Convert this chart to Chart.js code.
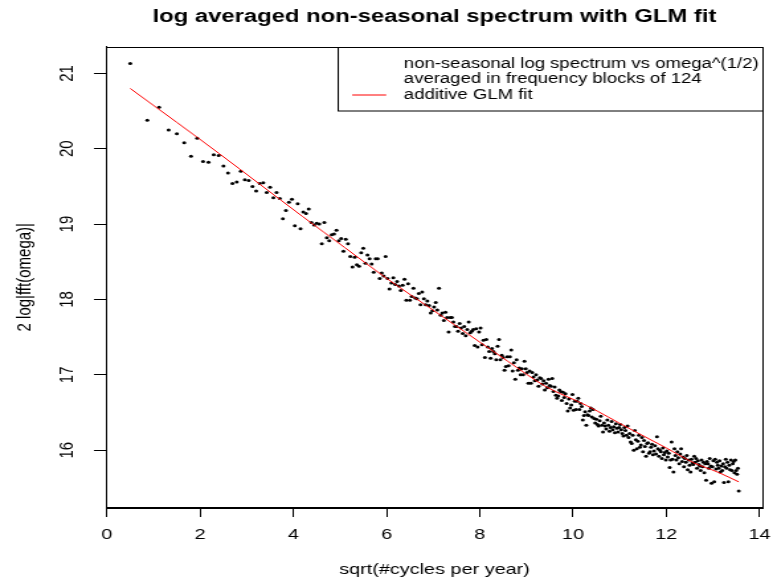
<!DOCTYPE html>
<html>
<head>
<meta charset="utf-8">
<script src="https://cdn.jsdelivr.net/npm/chart.js@4.4.1/dist/chart.umd.min.js"></script>
<style>
  html, body { margin: 0; padding: 0; background: #fff; overflow: hidden; }
  /* el original es un grafico cuadrado estirado a lo ancho */
  #grafica { display: block; transform: scaleX(1.32363); transform-origin: 0 0; }
</style>
</head>
<body>
<canvas id="grafica" width="584" height="584"></canvas>
<script>
const titulo = "log averaged non-seasonal spectrum with GLM fit";
const tituloX = "sqrt(#cycles per year)";
const tituloY = "2 log|fft(omega)|";
const leyenda = ["non-seasonal log spectrum vs omega^(1/2)", "averaged in frequency blocks of 124", "additive GLM fit"];

const xTicks = [0, 2, 4, 6, 8, 10, 12, 14];
const yTicks = [16, 17, 18, 19, 20, 21];

// centro de cada bloque de frecuencias (ciclos por año)
const cyclesPerYear = [
  0.25,0.75,1.25,1.75,2.25,2.75,3.25,3.75,4.25,4.75,5.25,5.75,6.25,6.75,7.25,7.75,8.25,8.75,9.25,9.75,
  10.25,10.75,11.25,11.75,12.25,12.75,13.25,13.75,14.25,14.75,15.25,15.75,16.25,16.75,17.25,17.75,18.25,18.75,19.25,19.75,
  20.25,20.75,21.25,21.75,22.25,22.75,23.25,23.75,24.25,24.75,25.25,25.75,26.25,26.75,27.25,27.75,28.25,28.75,29.25,29.75,
  30.25,30.75,31.25,31.75,32.25,32.75,33.25,33.75,34.25,34.75,35.25,35.75,36.25,36.75,37.25,37.75,38.25,38.75,39.25,39.75,
  40.25,40.75,41.25,41.75,42.25,42.75,43.25,43.75,44.25,44.75,45.25,45.75,46.25,46.75,47.25,47.75,48.25,48.75,49.25,49.75,
  50.25,50.75,51.25,51.75,52.25,52.75,53.25,53.75,54.25,54.75,55.25,55.75,56.25,56.75,57.25,57.75,58.25,58.75,59.25,59.75,
  60.25,60.75,61.25,61.75,62.25,62.75,63.25,63.75,64.25,64.75,65.25,65.75,66.25,66.75,67.25,67.75,68.25,68.75,69.25,69.75,
  70.25,70.75,71.25,71.75,72.25,72.75,73.25,73.75,74.25,74.75,75.25,75.75,76.25,76.75,77.25,77.75,78.25,78.75,79.25,79.75,
  80.25,80.75,81.25,81.75,82.25,82.75,83.25,83.75,84.25,84.75,85.25,85.75,86.25,86.75,87.25,87.75,88.25,88.75,89.25,89.75,
  90.25,90.75,91.25,91.75,92.25,92.75,93.25,93.75,94.25,94.75,95.25,95.75,96.25,96.75,97.25,97.75,98.25,98.75,99.25,99.75,
  100.25,100.75,101.25,101.75,102.25,102.75,103.25,103.75,104.25,104.75,105.25,105.75,106.25,106.75,107.25,107.75,108.25,108.75,109.25,109.75,
  110.25,110.75,111.25,111.75,112.25,112.75,113.25,113.75,114.25,114.75,115.25,115.75,116.25,116.75,117.25,117.75,118.25,118.75,119.25,119.75,
  120.25,120.75,121.25,121.75,122.25,122.75,123.25,123.75,124.25,124.75,125.25,125.75,126.25,126.75,127.25,127.75,128.25,128.75,129.25,129.75,
  130.25,130.75,131.25,131.75,132.25,132.75,133.25,133.75,134.25,134.75,135.25,135.75,136.25,136.75,137.25,137.75,138.25,138.75,139.25,139.75,
  140.25,140.75,141.25,141.75,142.25,142.75,143.25,143.75,144.25,144.75,145.25,145.75,146.25,146.75,147.25,147.75,148.25,148.75,149.25,149.75,
  150.25,150.75,151.25,151.75,152.25,152.75,153.25,153.75,154.25,154.75,155.25,155.75,156.25,156.75,157.25,157.75,158.25,158.75,159.25,159.75,
  160.25,160.75,161.25,161.75,162.25,162.75,163.25,163.75,164.25,164.75,165.25,165.75,166.25,166.75,167.25,167.75,168.25,168.75,169.25,169.75,
  170.25,170.75,171.25,171.75,172.25,172.75,173.25,173.75,174.25,174.75,175.25,175.75,176.25,176.75,177.25,177.75,178.25,178.75,179.25,179.75,
  180.25,180.75,181.25,181.75,182.25,182.75,183.25,183.75
];

// 2 log|fft| promediado en cada bloque
const logSpectrum = [
  21.13,20.38,20.55,20.25,20.20,20.08,19.90,20.14,19.83,19.82,19.92,19.91,
  19.77,19.68,19.54,19.56,19.70,19.59,19.58,19.50,19.44,19.54,19.55,19.42,19.49,19.35,19.42,19.34,19.07,19.18,19.29,19.33,18.98,19.27,18.94,19.16,19.14,19.20,
  19.02,18.99,19.01,19.00,18.74,19.02,18.82,18.78,18.86,18.87,18.92,18.78,18.81,18.64,18.80,18.74,18.57,18.43,18.56,18.46,18.44,18.62,
  18.68,18.48,18.59,18.54,18.47,18.36,18.54,18.54,18.28,18.35,18.31,18.57,18.28,18.14,18.22,18.29,
  18.20,18.24,18.18,18.12,18.19,18.27,17.99,18.21,17.99,18.04,18.15,18.02,18.01,18.08,17.93,18.10,18.01,17.93,17.98,17.92,
  17.82,17.85,17.90,17.96,17.86,18.15,17.79,17.82,17.72,17.83,17.76,17.57,17.76,17.76,17.70,17.64,17.64,17.58,17.68,17.62,
  17.55,17.64,17.52,17.60,17.70,17.56,17.58,17.60,17.39,17.61,17.37,
  17.57,17.62,17.40,17.46,17.23,17.47,17.37,17.31,17.22,17.35,17.31,17.28,17.20,17.38,17.47,17.20,17.26,17.23,17.06,17.11,
  17.24,17.12,17.24,17.33,17.05,17.16,16.94,17.20,17.06,17.09,17.00,17.08,17.00,17.18,17.08,17.03,16.89,17.05,16.89,17.03,
  16.97,16.92,17.00,16.93,16.85,16.96,16.95,16.88,16.92,16.80,16.89,16.83,16.94,16.86,
  16.85,16.95,16.78,16.84,16.73,16.69,16.72,16.80,16.78,16.66,16.77,16.70,16.75,16.62,16.52,16.68,16.56,16.60,16.74,16.53,
  16.65,16.54,16.65,16.69,16.54,16.62,16.58,16.40,16.46,16.51,16.33,16.47,16.46,16.52,16.56,16.44,16.54,16.42,16.36,16.41,
  16.34,16.32,16.39,16.45,16.33,16.24,16.36,16.32,16.28,16.40,16.33,16.25,16.30,16.38,16.27,16.31,16.23,16.35,16.29,16.24,
  16.30,16.34,16.27,16.22,16.19,16.30,16.26,16.20,16.32,16.17,
  16.22,16.11,16.09,16.20,16.00,16.26,16.14,16.02,16.12,16.20,16.04,16.07,16.17,15.98,16.13,16.05,15.92,16.09,16.10,15.96,
  15.98,16.04,16.08,15.94,15.99,16.06,15.95,16.18,16.02,15.92,16.00,15.98,15.89,16.03,15.94,15.97,15.87,15.99,15.91,15.96,
  15.77,15.87,16.11,15.88,15.71,16.02,15.93,15.87,15.98,15.90,15.82,15.95,16.02,15.85,15.91,15.78,15.89,15.84,15.93,15.74,
  15.87,15.80,15.71,15.88,15.83,15.81,15.92,15.84,15.89,15.76,15.86,15.81,15.79,15.73,15.87,15.78,15.84,15.70,15.82,15.60,
  15.85,15.82,15.76,15.89,15.79,15.56,15.78,15.86,15.58,15.88,15.75,15.84,15.80,15.76,15.86,15.71,15.79,15.73,15.82,15.57,
  15.78,15.88,15.76,15.84,15.58,15.80,15.74,15.87,15.73,15.82,15.85,15.70,15.87,15.73,15.68,15.76,15.46
];

const fitX = [0.5, 1.5, 2.4, 3.3, 4.2, 5.1, 6.0, 6.9, 7.75, 8.6, 9.4, 10.3, 11.2, 12.0, 12.6, 13.1, 13.555];
const fitY = [20.80, 20.35, 19.94, 19.52, 19.10, 18.69, 18.28, 17.90, 17.54, 17.18, 16.85, 16.59, 16.29, 16.03, 15.83, 15.71, 15.58];

const fuente = '"Liberation Sans", Arial, Helvetica, sans-serif';

let puntos = cyclesPerYear.map((f, i) => ({ x: Math.sqrt(f), y: logSpectrum[i] }));
let curva = fitX.map((x, i) => ({ x: x, y: fitY[i] }));

const marcoYLeyenda = {
    id: 'marcoYLeyenda',
    afterDraw(chart) {
        const ctx = chart.ctx;
        const a = chart.chartArea;
        ctx.save();
        ctx.strokeStyle = '#000';
        ctx.lineWidth = 1;
        const l = Math.round(a.left) + 0.5, t = Math.round(a.top) + 0.5;
        const r = Math.round(a.right) - 0.5, b = Math.round(a.bottom) - 0.5;
        ctx.strokeRect(l, t, r - l, b - t);

        ctx.fillStyle = '#000';
        ctx.font = 'bold 18px ' + fuente;
        ctx.textAlign = 'center';
        ctx.textBaseline = 'middle';
        ctx.fillText(titulo, (a.left + a.right) / 2, 17);

        // leyenda arriba a la derecha
        const w = 321.5, h = 63.5;
        const x0 = Math.round(r - w) + 0.5;
        ctx.fillStyle = '#fff';
        ctx.fillRect(x0, t, r - x0, h);
        ctx.strokeRect(x0, t, r - x0, h);
        ctx.fillStyle = '#000';
        ctx.font = '14px ' + fuente;
        ctx.textAlign = 'left';
        const filas = [16.5, 31.8, 47.5];
        leyenda.forEach((txt, i) => ctx.fillText(txt, x0 + 49.6, t + filas[i]));
        ctx.strokeStyle = '#ff0000';
        ctx.beginPath();
        ctx.moveTo(x0 + 10.6, t + filas[2]);
        ctx.lineTo(x0 + 36.3, t + filas[2]);
        ctx.stroke();
        ctx.restore();
    }
};

new Chart(document.getElementById('grafica'), {
    type: 'scatter',
    data: {
        datasets: [
            {
                type: 'line',
                label: leyenda[2],
                data: curva,
                borderColor: '#ff0000',
                borderWidth: 1,
                pointRadius: 0,
                fill: false,
                cubicInterpolationMode: 'monotone'
            },
            {
                label: leyenda[0],
                data: puntos,
                backgroundColor: '#000',
                borderWidth: 0,
                pointRadius: 1.5,
                pointHoverRadius: 1.5
            }
        ]
    },
    plugins: [marcoYLeyenda],
    options: {
        responsive: false,
        devicePixelRatio: 1,
        animation: false,
        events: [],
        layout: { padding: { top: 46.5, right: 7.5, left: 0, bottom: 0 } },
        plugins: { legend: { display: false }, title: { display: false }, tooltip: { enabled: false } },
        scales: {
            x: {
                type: 'linear',
                min: -0.022,
                max: 14.077,
                afterBuildTicks: s => { s.ticks = xTicks.map(v => ({ value: v })); },
                afterFit: s => { s.height = 76; s.paddingLeft = 0; s.paddingRight = 0; },
                grid: { drawOnChartArea: false, color: '#000', tickLength: 9 },
                border: { display: true, color: '#000' },
                ticks: { color: '#000', font: { family: fuente, size: 15 }, padding: 9, maxRotation: 0, autoSkip: false },
                title: { display: true, text: tituloX, color: '#000', font: { family: fuente, size: 15 }, padding: { top: 0, bottom: 5 } }
            },
            y: {
                type: 'linear',
                min: 15.233,
                max: 21.357,
                afterBuildTicks: s => { s.ticks = yTicks.map(v => ({ value: v })); },
                afterFit: s => { s.width = 80; s.paddingTop = 0; s.paddingBottom = 0; },
                grid: { drawOnChartArea: false, color: '#000', tickLength: 9 },
                border: { display: true, color: '#000' },
                ticks: { color: '#000', font: { family: fuente, size: 15 }, padding: 11.3, minRotation: 90, maxRotation: 90, crossAlign: 'center', autoSkip: false },
                title: { display: true, text: tituloY, color: '#000', font: { family: fuente, size: 15 }, padding: { top: 9.9, bottom: 0 } }
            }
        }
    }
});
</script>
</body>
</html>
